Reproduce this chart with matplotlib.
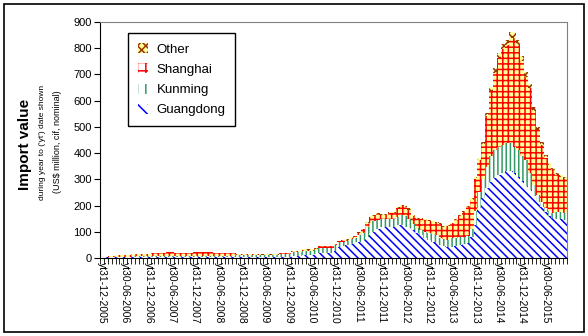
import numpy as np
import matplotlib
matplotlib.use('Agg')
from matplotlib import pyplot as plt
from matplotlib.patches import Patch, Rectangle

plt.rcParams['font.family'] = ['Liberation Sans', 'DejaVu Sans']
plt.rcParams['hatch.linewidth'] = 1.1

# monthly year-to-date values, Dec 2005 .. Nov 2015 (US$ million)
guangdong = [2, 2, 2, 2, 2, 2, 2, 2, 3, 3, 3, 3, 3, 3, 3, 3, 3, 3, 3, 3,
             3, 3, 3, 3, 3, 3, 3, 3, 3, 3, 3, 3, 3, 3, 3, 3, 3, 3, 3, 3,
             3, 3, 3, 3, 3, 3, 4, 4, 4, 8, 8, 8, 11, 11, 11, 15, 20, 20, 20, 20,
             28, 42, 45, 50, 55, 60, 62, 70, 81, 95, 100, 110, 117, 117, 117, 120, 124, 126, 120, 114,
             105, 95, 88, 78, 70, 60, 56, 48, 44, 42, 43, 45, 48, 52, 57, 80, 126, 190, 230, 267,
             290, 305, 316, 325, 333, 333, 325, 310, 295, 275, 259, 235, 215, 195, 176, 160, 152, 150, 148, 145]
kunming = [3, 3, 3, 3, 3, 3, 3, 3, 3, 3, 3, 3, 3, 4, 4, 4, 4, 4, 4, 4,
           4, 4, 4, 4, 5, 5, 5, 5, 5, 5, 5, 5, 5, 5, 5, 9, 9, 9, 9, 9,
           9, 8, 8, 8, 8, 8, 12, 12, 12, 14, 14, 14, 17, 17, 17, 17, 20, 20, 20, 20,
           20, 18, 17, 16, 17, 18, 24, 25, 38, 40, 42, 35, 30, 30, 30, 30, 34, 38, 40, 36,
           25, 19, 20, 22, 25, 30, 30, 30, 28, 28, 33, 33, 32, 28, 25, 30, 54, 63, 70, 81,
           100, 106, 109, 105, 105, 107, 100, 101, 95, 98, 65, 45, 25, 20, 14, 20, 21, 25, 28, 27]
shanghai = [0, 0, 1, 1, 5, 5, 5, 5, 8, 8, 8, 8, 8, 12, 12, 12, 12, 15, 15, 12,
            12, 12, 12, 12, 14, 14, 14, 14, 14, 10, 10, 10, 10, 10, 10, 4, 4, 4, 4, 4,
            4, 2, 2, 2, 2, 2, 3, 3, 3, 4, 4, 4, 4, 4, 4, 4, 5, 5, 5, 5,
            4, 4, 5, 3, 5, 4, 11, 14, 15, 21, 18, 23, 16, 16, 24, 21, 32, 34, 34, 34,
            29, 36, 42, 46, 46, 48, 48, 50, 47, 53, 56, 66, 80, 95, 111, 112, 120, 119, 131, 192,
            247, 295, 337, 368, 374, 400, 412, 401, 361, 319, 323, 281, 247, 217, 192, 173, 162, 141, 132, 130]
other = [0, 0, 0, 0, 1, 1, 1, 1, 1, 1, 1, 1, 1, 1, 1, 1, 1, 2, 2, 1,
         1, 1, 1, 1, 2, 2, 2, 2, 2, 1, 1, 1, 1, 1, 1, 1, 1, 1, 1, 1,
         1, 1, 1, 1, 1, 1, 1, 1, 1, 1, 1, 1, 1, 1, 1, 1, 1, 1, 1, 1,
         1, 2, 2, 2, 2, 2, 3, 3, 4, 4, 4, 5, 5, 5, 5, 5, 6, 6, 6, 5,
         5, 4, 4, 4, 4, 4, 4, 4, 3, 3, 3, 4, 4, 5, 5, 6, 8, 10, 11, 14,
         16, 18, 19, 20, 21, 22, 22, 21, 19, 18, 16, 14, 12, 11, 10, 9, 8, 8, 8, 8]

tick_labels = []
for yr in range(2005, 2016):
    if yr > 2005:
        tick_labels.append('yt30-06-%d' % yr)
    if yr < 2015:
        tick_labels.append('yt31-12-%d' % yr)

n = len(guangdong)
x = np.arange(n)
g = np.array(guangdong)
k = np.array(kunming)
s = np.array(shanghai)
o = np.array(other)

fig = plt.figure(figsize=(5.88, 3.36), dpi=100)
ax = fig.add_axes([100/588, 1-258/336, 467/588, 236/336])

kw = dict(width=1.0, linewidth=0, antialiased=False)
ax.bar(x, g, facecolor='white', edgecolor='#0000FF', hatch='\\\\\\\\', **kw)
ax.bar(x, k, bottom=g, facecolor='white', edgecolor='#339966', hatch='||||', **kw)
ax.bar(x, s, bottom=g+k, facecolor='#FFFF99', edgecolor='#FF0000', hatch='+++', **kw)
ax.bar(x, o, bottom=g+k+s, facecolor='#FFFF99', edgecolor='#993300', hatch='xxxx', **kw)

ax.set_xlim(-0.5, n-0.5)
ax.set_ylim(0, 900)
ax.set_yticks(range(0, 901, 100))
ax.tick_params(axis='y', direction='out', length=4, labelsize=8, pad=2)
ax.set_xticks(np.arange(0, n, 6))
ax.set_xticklabels(tick_labels, rotation=270, fontsize=7.5)
ax.set_xticks(np.arange(-0.5, n, 1), minor=True)
ax.tick_params(axis='x', which='major', length=0, pad=3)
ax.tick_params(axis='x', which='minor', direction='out', length=4)
ax.spines['top'].set_color('#808080')
ax.spines['right'].set_color('#808080')

fig.text(25/588, 1-144/336, 'Import value', rotation=90, fontsize=11,
         fontweight='bold', ha='center', va='center')
fig.text(43/588, 1-142/336, "during year to ('yt') date shown", rotation=90,
         fontsize=6, ha='center', va='center')
fig.text(57/588, 1-142/336, '(US$ million, cif, nominal)', rotation=90,
         fontsize=6.5, ha='center', va='center')

handles = [Patch(facecolor='#FFFF99', edgecolor='#993300', hatch='xxxx', linewidth=0),
           Patch(facecolor='white', edgecolor='#FF0000', hatch='++', linewidth=0),
           Patch(facecolor='white', edgecolor='#339966', hatch='||', linewidth=0),
           Patch(facecolor='white', edgecolor='#0000FF', hatch='\\\\\\', linewidth=0)]
leg = ax.legend(handles, ['Other', 'Shanghai', 'Kunming', 'Guangdong'],
                loc='upper left', bbox_to_anchor=(0.06, 0.953), fontsize=9.5,
                fancybox=False, edgecolor='black', framealpha=1,
                handlelength=0.8, handleheight=0.8, handletextpad=0.6,
                labelspacing=0.58, borderpad=0.75, borderaxespad=0)
leg.get_frame().set_linewidth(1.0)

fig.patches.append(Rectangle((4/588, 4/336), 580/588, 328/336, fill=False,
                             edgecolor='black', linewidth=1.2,
                             transform=fig.transFigure))

fig.savefig('out.png', dpi=100)
